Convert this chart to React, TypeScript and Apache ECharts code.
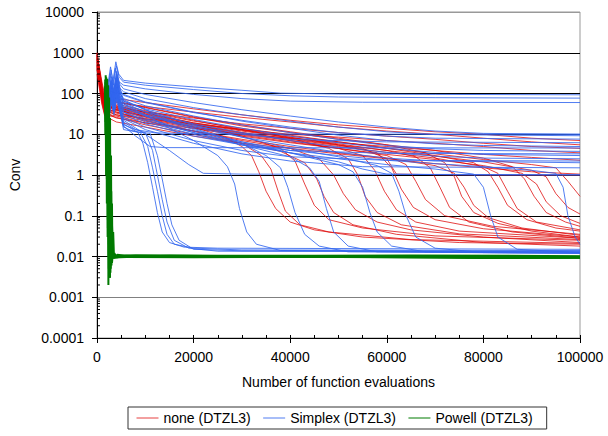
import React, { useEffect, useRef } from "react";
import * as echarts from "echarts";

// Each run: [thousands of function evaluations, Conv]
const noneRuns: number[][][] = [
  [[0,950],[0.5,400],[1,150],[1.6,70],[4,60],[10,48],[20,35],[30,26],[40,20],[50,15],[60,12],[70,10],[80,8],[90,6.5],[100,5.5]],
  [[0,700],[0.6,250],[1.2,90],[1.6,50],[4,45],[10,35],[20,25],[30,18],[40,14],[50,11],[60,9],[70,7.5],[80,6],[90,5],[100,4.5]],
  [[0,500],[0.5,200],[1,80],[1.6,40],[4,30],[10,24],[20,18],[30,13],[40,10],[50,8.5],[60,7],[70,6],[80,5],[90,4],[100,3.5]],
  [[0,1000],[0.4,500],[1,200],[1.6,90],[4,75],[10,60],[20,42],[30,30],[40,22],[50,17],[60,14],[70,11.5],[80,10],[90,8],[100,7]],
  [[0,400],[0.6,150],[1.2,60],[1.6,35],[4,25],[10,19],[20,14],[30,10],[40,8],[50,6.2],[60,5],[70,4],[80,3.2],[90,2.7],[100,2.3]],
  [[0,800],[0.5,300],[1,110],[1.6,55],[4,40],[10,28],[20,15],[26,9],[30,5],[32,3],[33.5,1.2],[35,0.4],[37,0.15],[40,0.07],[45,0.045],[55,0.03],[75,0.022],[100,0.02]],
  [[0,600],[0.6,220],[1.2,70],[1.6,45],[4,35],[10,22],[20,12],[30,6],[34,3],[36,1.4],[37.5,0.4],[39,0.13],[42,0.06],[48,0.04],[65,0.026],[100,0.021]],
  [[0,900],[0.5,350],[1,130],[1.6,65],[4,50],[10,34],[20,18],[30,9],[38,4.5],[41,2.2],[43,0.6],[45,0.18],[48,0.08],[55,0.05],[70,0.032],[100,0.025]],
  [[0,450],[0.5,180],[1,70],[1.6,38],[4,30],[10,21],[20,12],[30,7],[40,4.5],[46,2.5],[49,1],[51,0.35],[53.5,0.14],[58,0.07],[65,0.045],[80,0.03],[100,0.022]],
  [[0,850],[0.6,320],[1.2,110],[1.6,70],[4,55],[10,38],[20,22],[30,13],[40,8],[48,4.5],[52,2.5],[54,1],[55.5,0.3],[58,0.12],[63,0.06],[75,0.036],[100,0.026]],
  [[0,650],[0.5,260],[1,95],[1.6,50],[4,40],[10,28],[20,17],[30,11],[40,7],[50,4.5],[55,3],[57.5,1.3],[59.5,0.4],[62,0.14],[66,0.07],[75,0.042],[100,0.028]],
  [[0,750],[0.6,280],[1.2,90],[1.6,55],[4,45],[10,32],[20,19],[30,12.5],[40,8.5],[50,5.5],[58,3.5],[61,1.5],[63,0.45],[65.5,0.16],[70,0.08],[80,0.048],[100,0.03]],
  [[0,550],[0.5,210],[1,85],[1.6,42],[4,35],[10,24],[20,15],[30,9.5],[40,6.5],[50,4.5],[60,3],[64,1.8],[66,0.7],[68,0.25],[72,0.1],[82,0.055],[100,0.035]],
  [[0,980],[0.4,450],[1,170],[1.6,80],[4,62],[10,45],[20,26],[30,16],[40,11],[50,7.5],[60,5.5],[68,3.5],[72,2],[74,0.9],[75.5,0.3],[78,0.12],[83,0.065],[90,0.042],[100,0.03]],
  [[0,420],[0.6,160],[1.2,55],[1.6,32],[4,28],[10,19],[20,12],[30,7.5],[40,5],[50,3.5],[60,2.6],[70,1.7],[74,1.1],[76,0.5],[78,0.18],[81,0.09],[88,0.05],[100,0.033]],
  [[0,820],[0.5,310],[1,120],[1.6,60],[4,50],[10,36],[20,21],[30,14],[40,9.5],[50,6.5],[60,4.5],[70,3],[78,2],[81,1.2],[83,0.5],[85,0.18],[89,0.08],[95,0.05],[100,0.042]],
  [[0,520],[0.6,200],[1.2,65],[1.6,40],[4,38],[10,26],[20,15],[30,10],[40,7],[50,5],[60,3.6],[70,2.6],[80,1.6],[83,1.1],[85,0.4],[87,0.15],[91,0.07],[100,0.045]],
  [[0,880],[0.5,340],[1,125],[1.6,75],[4,65],[10,46],[20,27],[30,17],[40,11.5],[50,8],[60,5.5],[70,4],[80,2.6],[86,1.6],[88.5,0.8],[90.5,0.3],[93,0.12],[97,0.07],[100,0.055]],
  [[0,480],[0.5,190],[1,75],[1.6,40],[4,33],[10,23],[20,14],[30,9],[40,6.2],[50,4.5],[60,3.2],[70,2.4],[80,1.7],[88,1.1],[91,0.6],[93,0.22],[96,0.1],[100,0.065]],
  [[0,720],[0.6,270],[1.2,85],[1.6,50],[4,42],[10,30],[20,17],[30,11],[40,7.8],[50,5.5],[60,4],[70,2.9],[80,2.1],[90,1.3],[93,0.9],[95,0.35],[97.5,0.16],[100,0.11]],
  [[0,380],[0.5,150],[1,60],[1.6,30],[4,26],[10,17],[20,10],[30,6],[38,3.8],[43,2],[45.5,0.8],[47,0.3],[49,0.12],[53,0.06],[62,0.035],[80,0.022],[100,0.018]],
  [[0,300],[0.5,130],[1,55],[1.6,28],[4,20],[10,15],[20,9],[30,6],[40,4.5],[50,3.3],[60,2.5],[70,1.9],[80,1.5],[90,1.2],[100,1.05]],
  [[0,760],[0.5,290],[1,105],[1.6,58],[4,48],[10,34],[20,19],[30,13],[40,9],[50,6.5],[60,4.6],[70,3.3],[80,2.4],[90,1.8],[95,1.5],[97.5,0.7],[100,0.3]],
  [[0,600],[0.5,240],[1,90],[1.6,48],[4,40],[10,27],[20,16],[30,10.5],[40,7.5],[50,5.3],[55,4.5],[60,2.5],[62,1.05],[70,1.02],[85,1],[100,1]],
  [[0,680],[0.5,250],[1,95],[1.6,52],[4,44],[10,31],[20,18],[30,12],[40,8.3],[50,5.8],[60,4],[66,2.8],[69,1.5],[71,0.5],[73,0.16],[77,0.07],[86,0.04],[100,0.028]],
];

const simplexRuns: number[][][] = [
  [[2.2,150],[2.8,450],[3.3,200],[3.9,600],[4.5,300],[5.5,210],[10,180],[20,145],[30,120],[38,102],[50,97],[70,95],[100,93]],
  [[2.3,120],[2.9,380],[3.4,160],[4,480],[4.6,250],[5.5,190],[10,160],[20,125],[30,100],[40,88],[50,82],[70,79],[100,77]],
  [[2.2,100],[2.7,300],[3.2,130],[3.8,420],[4.4,200],[5.5,160],[10,130],[20,95],[30,75],[40,65],[55,61],[100,60]],
  [[2.4,90],[3,260],[3.5,110],[4.1,350],[4.7,170],[5.5,130],[10,95],[20,60],[30,40],[40,28],[50,20],[60,15],[70,12],[80,10.5],[100,10]],
  [[2.3,80],[2.9,220],[3.4,100],[4,300],[4.6,140],[5.5,110],[10,75],[20,45],[30,30],[40,21],[50,15],[60,11.5],[70,9.8],[100,9.2]],
  [[2.5,70],[3,200],[3.6,90],[4.2,260],[4.8,120],[5.5,90],[10,60],[20,34],[30,22],[40,15],[50,11],[60,9],[70,8],[100,7.6]],
  [[2.2,60],[2.8,180],[3.3,80],[3.9,240],[4.5,110],[5.5,95],[10,62],[20,35],[30,21],[40,14],[50,9.5],[60,7],[70,5.8],[80,5.3],[100,5]],
  [[2.4,55],[3,160],[3.5,70],[4.1,210],[4.7,100],[5.5,75],[10,50],[20,28],[30,17],[40,11],[50,7.5],[60,5.3],[70,4.4],[80,4],[100,3.8]],
  [[2.3,50],[2.9,140],[3.4,65],[4,190],[4.6,90],[5.5,65],[10,42],[20,23],[30,14],[40,9],[50,6.2],[60,4.5],[70,3.6],[80,3.2],[100,3]],
  [[2.5,45],[3.1,120],[3.6,60],[4.2,170],[4.8,80],[5.5,55],[10,35],[20,18],[30,11],[40,7],[50,4.8],[60,3.6],[70,2.9],[80,2.6],[100,2.5]],
  [[2.2,40],[2.8,110],[3.3,55],[3.9,150],[4.5,70],[5.5,45],[10,28],[20,15],[30,8.5],[40,5.5],[50,3.6],[60,2.6],[70,2.2],[100,2]],
  [[2.4,35],[3,100],[3.5,50],[4.1,130],[4.7,60],[5.5,35],[10,22],[20,11],[30,6],[40,3.5],[50,2.1],[55,1.4],[60,1.05],[80,1],[100,1]],
  [[2.3,30],[2.9,90],[3.4,40],[4,110],[4.6,45],[5.5,18],[7,14],[8.5,11],[9.5,6],[10.5,2],[11.5,0.5],[12.5,0.12],[13.5,0.04],[15,0.022],[18,0.017],[25,0.016],[100,0.015]],
  [[2.5,25],[3.1,80],[3.6,35],[4.2,95],[4.8,40],[5.5,15],[7,12.5],[9,11],[10.5,5],[11.5,1.5],[12.5,0.4],[13.5,0.1],[14.5,0.035],[16,0.02],[20,0.016],[30,0.0145],[100,0.014]],
  [[2.2,28],[2.8,85],[3.3,38],[3.9,100],[4.5,42],[5.5,17],[8,13],[10,11],[11.5,4],[12.5,1],[13.5,0.25],[14.5,0.07],[16,0.025],[19,0.016],[25,0.0135],[100,0.013]],
  [[2.4,22],[3,70],[3.5,30],[4.1,85],[4.7,38],[5.5,13],[8,11.5],[11,10.5],[12.5,3],[13.5,0.8],[14.5,0.2],[15.5,0.06],[17,0.025],[20,0.015],[30,0.0138],[100,0.0135]],
  [[2.3,60],[2.9,170],[3.4,75],[4,220],[4.6,100],[5.5,55],[10,30],[15,14],[20,7],[25,3],[27,1.6],[28.5,0.6],[29.5,0.15],[31,0.04],[33,0.02],[38,0.014],[100,0.013]],
  [[2.5,75],[3.1,210],[3.6,90],[4.2,280],[4.8,130],[5.5,70],[10,40],[15,22],[20,14],[30,6],[35,3],[38,1.5],[39.5,0.5],[41,0.12],[43,0.035],[46,0.018],[52,0.013],[100,0.012]],
  [[2.2,55],[2.8,150],[3.3,70],[3.9,200],[4.5,90],[5.5,45],[10,28],[15,16],[20,11],[30,5.5],[40,2.8],[44,1.5],[46,0.7],[47.5,0.15],[49,0.04],[52,0.018],[58,0.013],[100,0.012]],
  [[2.4,65],[3,190],[3.5,85],[4.1,250],[4.7,115],[5.5,60],[10,35],[15,20],[20,13],[30,6.5],[40,3.5],[50,1.8],[53,1.2],[55,0.5],[56.5,0.12],[58,0.04],[61,0.018],[68,0.013],[100,0.0125]],
  [[2.3,70],[2.9,200],[3.4,80],[4,260],[4.6,120],[5.5,65],[10,40],[20,17],[30,8.5],[40,4.5],[50,2.8],[58,1.7],[61,1.1],[62.5,0.4],[64,0.1],[66,0.03],[70,0.016],[80,0.0125],[100,0.012]],
  [[2.5,45],[3.1,130],[3.6,55],[4.2,160],[4.8,70],[5.5,35],[10,20],[20,10],[30,5.5],[40,3.5],[50,2.5],[60,1.8],[70,1.4],[78,1.05],[80,0.5],[81.5,0.1],[83,0.03],[87,0.015],[100,0.0125]],
  [[2.2,50],[2.8,140],[3.3,60],[3.9,180],[4.5,80],[5.5,40],[10,24],[20,12],[30,6.5],[40,4],[50,3],[60,2.3],[70,1.9],[80,1.6],[90,1.3],[95,1.1],[96.5,0.5],[97.5,0.1],[99,0.03],[100,0.02]],
  [[2.4,40],[3,120],[3.5,50],[4.1,140],[4.7,60],[5.5,20],[8,13],[12,10.8],[20,10.3],[40,10.1],[100,10]],
  [[2.3,35],[2.9,100],[3.4,45],[4,120],[4.6,50],[5.5,16],[8,9],[11,5],[14,4.7],[100,4.6]],
  [[2.5,30],[3.1,90],[3.6,40],[4.2,110],[4.8,45],[5.5,22],[10,10],[15,4],[19,1.8],[22,1.1],[30,1.05],[100,1.02]],
  [[2.3,45],[2.9,130],[3.4,60],[4,160],[4.6,70],[5.5,50],[10,30],[20,16],[30,10],[40,7.5],[60,6.5],[100,6.2]],
  [[2.4,38],[3,110],[3.5,45],[4.1,140],[4.7,55],[5.5,30],[10,18],[20,9],[30,5.5],[40,4],[60,3.4],[100,3.3]],
  [[2.2,33],[2.8,95],[3.3,42],[3.9,120],[4.5,50],[5.5,26],[10,15],[20,7],[30,4],[40,2.8],[60,2.3],[100,2.2]],
  [[2.5,28],[3.1,85],[3.6,36],[4.2,105],[4.8,42],[5.5,24],[10,13],[20,6],[30,3.3],[40,2.2],[55,1.6],[100,1.5]],
];

const powellRuns: number[][][] = [
  [[1.7,220],[1.78,20],[1.86,180],[1.94,3],[2.02,120],[2.1,0.5],[2.18,60],[2.26,0.05],[2.34,20],[2.42,0.01],[2.5,3],[2.58,0.004],[2.66,0.5],[2.74,0.006],[2.82,0.05],[2.95,0.008],[3.1,0.015],[3.3,0.009],[3.6,0.012],[4,0.0095],[6,0.0105],[10,0.0098],[20,0.0102],[30,0.0099],[40,0.0101],[50,0.0098],[60,0.0102],[70,0.0099],[80,0.0095],[90,0.0097],[100,0.0096]],
  [[1.8,280],[1.88,40],[1.96,200],[2.04,8],[2.12,150],[2.2,1],[2.28,90],[2.36,0.1],[2.44,30],[2.52,0.02],[2.6,5],[2.68,0.003],[2.76,0.3],[2.84,0.005],[2.95,0.03],[3.1,0.007],[3.3,0.013],[3.6,0.009],[4.2,0.011],[7,0.0098],[15,0.0104],[30,0.0101],[50,0.0103],[70,0.0097],[85,0.0093],[100,0.0094]],
  [[1.65,150],[1.72,10],[1.8,100],[1.88,1],[1.96,70],[2.04,0.2],[2.12,40],[2.2,0.03],[2.28,10],[2.36,0.002],[2.44,2],[2.52,0.006],[2.6,0.2],[2.7,0.01],[2.8,0.1],[2.95,0.02],[3.1,0.06],[3.3,0.012],[3.6,0.0105],[6,0.0097],[20,0.0096],[40,0.0098],[60,0.0096],[80,0.0092],[100,0.0093]],
  [[1.9,250],[1.98,50],[2.06,200],[2.14,5],[2.22,100],[2.3,0.3],[2.38,50],[2.46,0.02],[2.54,15],[2.62,0.008],[2.7,1],[2.78,0.004],[2.86,0.1],[2.94,0.007],[3.05,0.02],[3.3,0.01],[3.8,0.0105],[8,0.0108],[25,0.0105],[45,0.0104],[65,0.0106],[100,0.0102]],
  [[2.1,230],[2.2,30],[2.3,160],[2.4,2],[2.5,80],[2.6,0.1],[2.7,25],[2.8,0.015],[2.9,3],[3.0,0.006],[3.1,0.2],[3.2,0.009],[3.35,0.04],[3.5,0.011],[3.9,0.0099],[12,0.0101],[35,0.0097],[55,0.0099],[75,0.0101],[100,0.0098]],
  [[1.75,190],[1.85,15],[1.95,140],[2.05,0.8],[2.15,90],[2.25,0.08],[2.35,35],[2.45,0.005],[2.55,8],[2.65,0.003],[2.75,1.5],[2.85,0.008],[2.95,0.4],[3.05,0.01],[3.2,0.012],[3.5,0.0095],[10,0.0101],[40,0.0099],[70,0.0096],[100,0.0095]],
];

const legendNames = ["none (DTZL3)", "Simplex (DTZL3)", "Powell (DTZL3)"];
const xMin = 0;
const xMax = 100000;
const xStep = 20000;
const yMin = 0.0001;
const yMax = 10000;
const yDecades = [0.0001, 0.001, 0.01, 0.1, 1, 10, 100, 1000, 10000];
const minorMultipliers = [2, 3, 4, 5, 6, 7, 8, 9];

const FONT = "'Liberation Sans', Arial, sans-serif";

export default function App() {
  const ref = useRef<HTMLDivElement>(null);
  useEffect(() => {
    document.body.style.margin = "0";
    if (!ref.current) return;
    const chart = echarts.init(ref.current, undefined, { renderer: "svg" });

    const makeRuns = (runs: number[][][], name: string, color: string, width: number, opacity: number) =>
      runs.map((r) => ({
        type: "line",
        name,
        data: r.map(([k, v]) => [k * 1000, v]),
        showSymbol: false,
        symbol: "none",
        silent: true,
        lineStyle: { color, width, opacity },
        itemStyle: { color },
        xAxisIndex: 0,
        yAxisIndex: 0,
      }));

    const minorVals: number[][] = [];
    yDecades.slice(0, -1).forEach((d) => minorMultipliers.forEach((m) => minorVals.push([0, d * m])));

    const option: any = {
      animation: false,
      textStyle: { fontFamily: FONT },
      grid: { left: 95, right: 28, top: 12, bottom: 98, show: true, borderColor: "#999", borderWidth: 1 },
      legend: {
        data: legendNames,
        left: 128,
        top: 407,
        itemWidth: 22,
        itemHeight: 14,
        itemGap: 12,
        padding: [4, 14, 4, 8],
        borderColor: "#333",
        borderWidth: 1,
        selectedMode: false,
        itemStyle: { opacity: 0 },
        lineStyle: { width: 1 },
        textStyle: { fontSize: 14, color: "#000", fontFamily: FONT },
      },
      xAxis: [
        {
          type: "value",
          min: xMin,
          max: xMax,
          interval: xStep,
          position: "bottom",
          axisLine: { show: true, lineStyle: { color: "#000", width: 1 } },
          axisTick: { show: true, length: 5, lineStyle: { color: "#000" } },
          axisLabel: { fontSize: 14, color: "#000", margin: 12, fontFamily: FONT, formatter: (v: number) => String(v) },
          splitLine: { show: false },
          name: "Number of function evaluations",
          nameLocation: "middle",
          nameGap: 37,
          nameTextStyle: { fontSize: 14, color: "#000", fontFamily: FONT },
        },
        {
          type: "value",
          min: xMin,
          max: xMax,
          interval: xStep,
          position: "bottom",
          axisLine: { show: false },
          axisTick: { show: true, inside: true, length: 3, lineStyle: { color: "#000" } },
          minorTick: { show: true, splitNumber: 4, length: 3, lineStyle: { color: "#000" } },
          axisLabel: { show: false },
          splitLine: { show: false },
        },
      ],
      yAxis: [
        {
          type: "log",
          logBase: 10,
          min: yMin,
          max: yMax,
          splitNumber: 8,
          axisLine: { show: true, lineStyle: { color: "#000", width: 1 } },
          axisTick: { show: true, length: 5, lineStyle: { color: "#000" } },
          axisLabel: {
            fontSize: 14,
            color: "#000",
            margin: 13,
            fontFamily: FONT,
            formatter: (v: number) => String(Number(v.toPrecision(1))),
          },
          splitLine: {
            show: true,
            lineStyle: {
              color: ["#000", "#808080", "#000", "#000", "#000", "#000", "#000", "#000", "#999"],
              width: 1,
            },
          },
          name: "Conv",
          nameLocation: "middle",
          nameGap: 75,
          nameTextStyle: { fontSize: 14, color: "#000", fontFamily: FONT },
        },
      ],
      series: [
        ...makeRuns(noneRuns, legendNames[0], "#dd0000", 1, 0.75),
        ...makeRuns(simplexRuns, legendNames[1], "#3366ee", 1, 0.85),
        ...makeRuns(powellRuns, legendNames[2], "#007a00", 2, 1),
        {
          type: "custom",
          name: "minorTicks",
          silent: true,
          xAxisIndex: 0,
          yAxisIndex: 0,
          data: minorVals,
          renderItem: (_params: any, api: any) => {
            const p = api.coord([xMin, api.value(1)]);
            return {
              type: "line",
              shape: { x1: p[0], y1: p[1], x2: p[0] + 3, y2: p[1] },
              style: { stroke: "#000", lineWidth: 1 },
            };
          },
          z: 10,
        },
      ],
    };
    chart.setOption(option);
    return () => chart.dispose();
  }, []);
  return <div ref={ref} style={{ width: 608, height: 436 }} />;
}
